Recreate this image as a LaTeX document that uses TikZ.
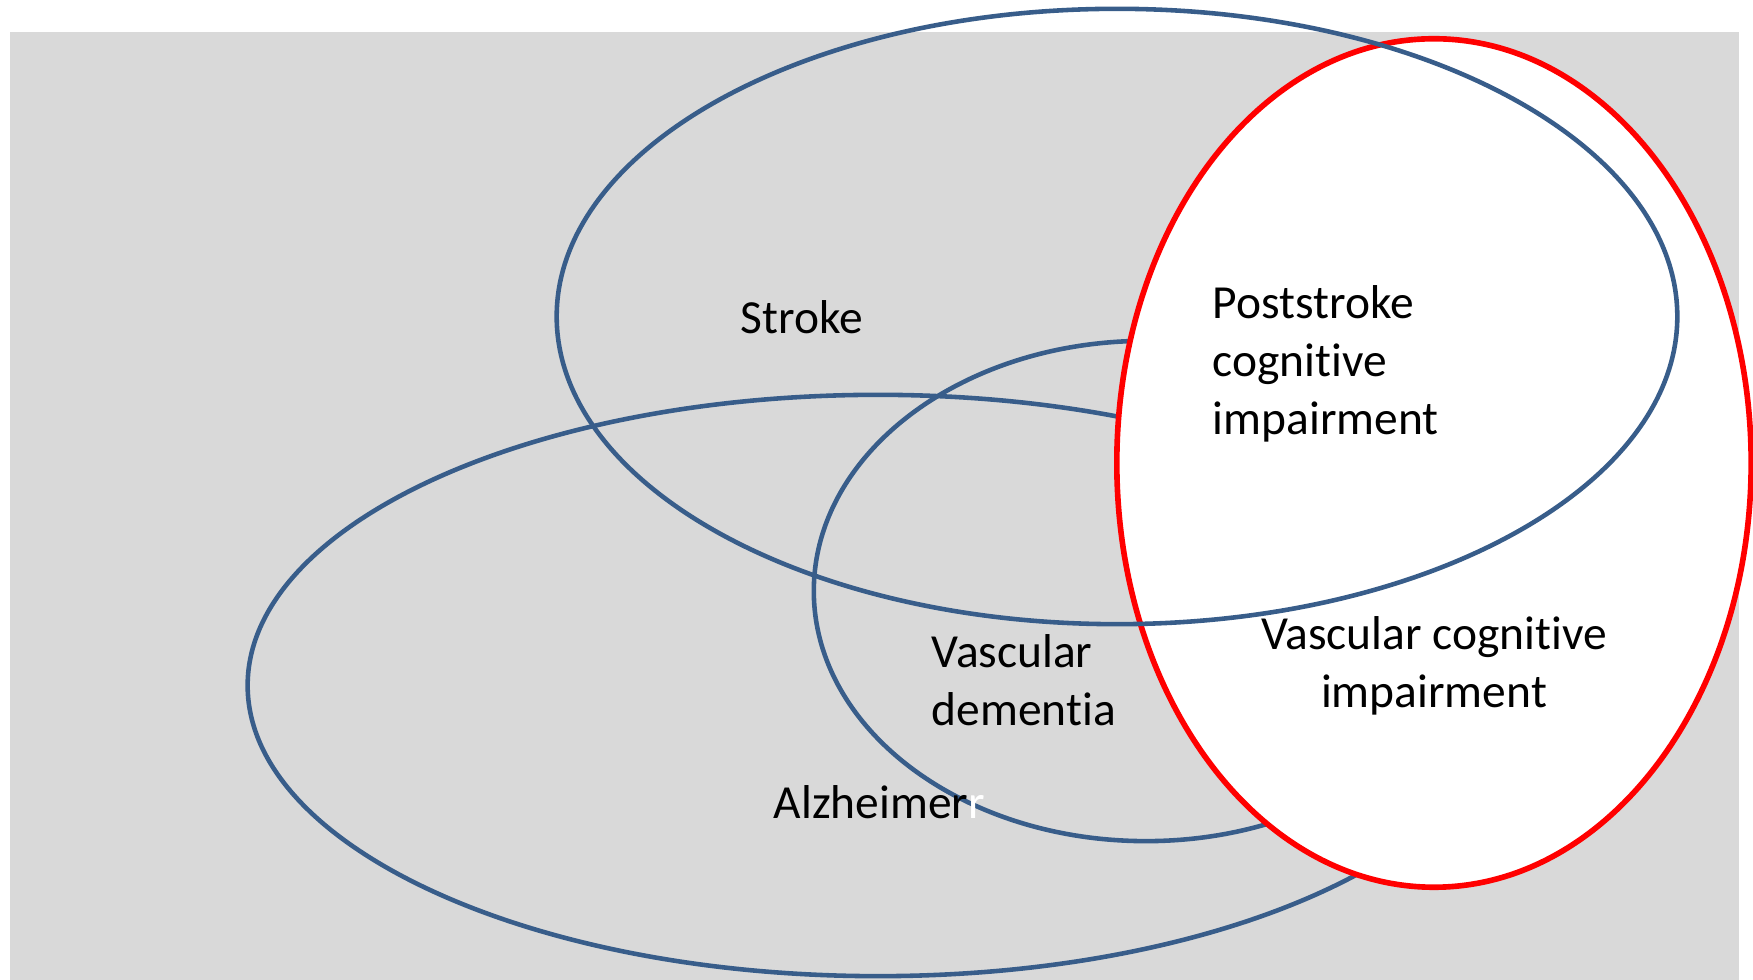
\documentclass[tikz,border=0pt]{standalone}
\usepackage{fontspec}
\setmainfont[RawFeature={-liga}]{Carlito}
\usetikzlibrary{shapes.geometric}
\definecolor{bgray}{HTML}{D9D9D9}
\definecolor{oblue}{HTML}{385D8A}
\definecolor{ored}{HTML}{FF0000}
\tikzset{
  set/.style={ellipse, draw=oblue, line width=1.3pt, inner sep=0pt},
  redset/.style={ellipse, draw=ored, fill=white, line width=1.6pt, inner sep=0pt},
  lbl/.style={font=\fontsize{13.5}{16.5}\selectfont, text=black, inner sep=0pt}
}
\begin{document}
\begin{tikzpicture}[x=0.01cm, y=-0.01cm]
\useasboundingbox (0,0) rectangle (1753,980);
\fill[bgray] (10,32) rectangle (1739,980);
\node[set, minimum width=12.60cm, minimum height=5.81cm] (alz) at (878,685.5) {};
\node[set, minimum width=6.64cm, minimum height=5.00cm] (vad) at (1146,591) {};
\node[redset, minimum width=6.34cm, minimum height=8.48cm] (vci) at (1434,463) {};
\node[set, minimum width=11.20cm, minimum height=6.15cm] (stroke) at (1117,316.5) {};
\node[lbl] (tstroke) at (802,317) {Stroke};
\node[lbl, align=left, anchor=west] (tpsci) at (1212,364) {Poststroke\\cognitive\\impairment};
\node[lbl, align=left, anchor=west] (tvad) at (931,680) {Vascular\\dementia};
\node[lbl, anchor=west] (talz) at (773,802) {Alzheimer\textcolor{white}{r}};
\node[lbl, align=center] (tvci) at (1434,666) {Vascular cognitive\\impairment};
\end{tikzpicture}
\end{document}
